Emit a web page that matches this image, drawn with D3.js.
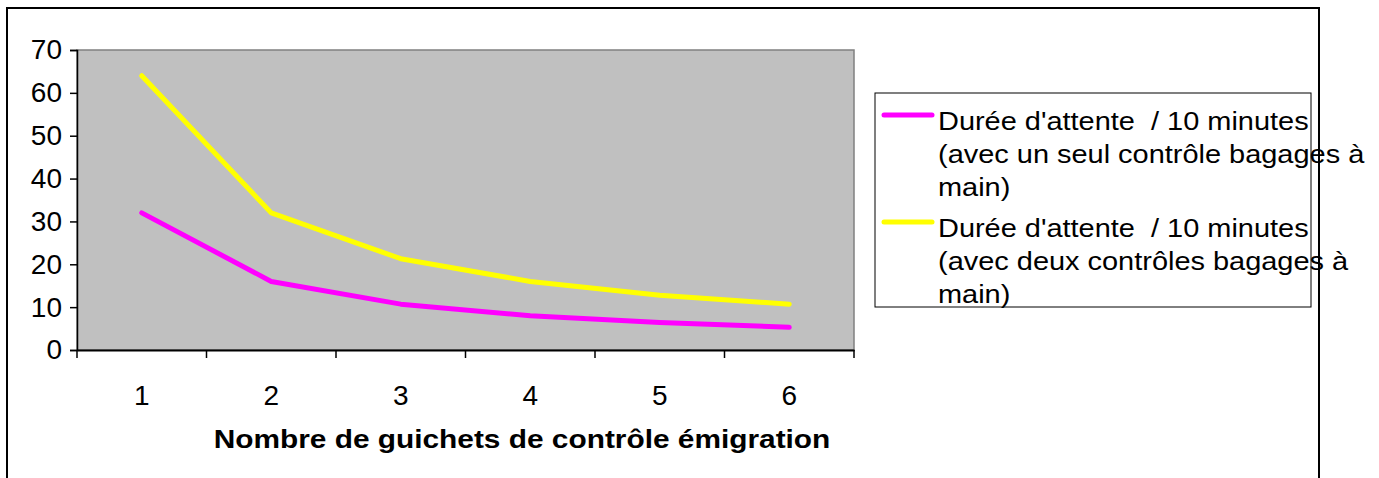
<!DOCTYPE html>
<html><head><meta charset="utf-8">
<script src="https://cdn.jsdelivr.net/npm/d3@7"></script>
<style>body{margin:0;background:#fff}svg{display:block}text{font-family:"Liberation Sans",Arial,sans-serif;white-space:pre}</style>
</head><body><svg id="c" width="1379" height="478"></svg>
<script>
const categories = ["1","2","3","4","5","6"];
const seriesNames = ["Durée d'attente  / 10 minutes (avec un seul contrôle bagages à main)",
                     "Durée d'attente  / 10 minutes (avec deux contrôles bagages à main)"];
const legendLines1 = ["Durée d'attente  / 10 minutes","(avec un seul contrôle bagages à","main)"];
const legendLines2 = ["Durée d'attente  / 10 minutes","(avec deux contrôles bagages à","main)"];
const valuesOne = [32, 16, 10.7, 8, 6.4, 5.3];
const valuesTwo = [64, 32, 21.3, 16, 12.8, 10.7];
const yTicks = [0,10,20,30,40,50,60,70];
const xTitle = "Nombre de guichets de contrôle émigration";
const colors = ["#FF00FF","#FFFF00"];

const svg = d3.select("#c");
// outer frame
svg.append("rect").attr("x",7).attr("y",8).attr("width",1312).attr("height",520)
  .attr("fill","#fff").attr("stroke","#000").attr("stroke-width",2);

const L=77,R=854,T=50,B=350;
const x = d3.scaleBand().domain(categories).range([L,R]).padding(0);
const y = d3.scaleLinear().domain([0,70]).range([B,T]);

svg.append("rect").attr("x",L).attr("y",T).attr("width",R-L).attr("height",B-T)
  .attr("fill","#C0C0C0").attr("stroke","#808080").attr("stroke-width",1.5);

// y axis
const ya = svg.append("g").attr("transform",`translate(${L},0)`)
  .call(d3.axisLeft(y).tickValues(yTicks).tickSize(7).tickPadding(8).tickFormat(d3.format("d")));
ya.select(".domain").attr("stroke","#000").attr("stroke-width",1.5);
ya.selectAll(".tick line").attr("stroke","#000").attr("stroke-width",1.5);
ya.selectAll("text").attr("font-size",28).attr("fill","#000").attr("font-family","Liberation Sans, Arial, sans-serif");

// x axis
const xa = svg.append("g").attr("transform",`translate(0,${B})`)
  .call(d3.axisBottom(x).tickSize(0).tickPadding(0));
xa.select(".domain").attr("stroke","#000").attr("stroke-width",2);
xa.selectAll("text").attr("font-size",28).attr("fill","#000").attr("dy",null).attr("y",55)
  .attr("font-family","Liberation Sans, Arial, sans-serif");
const bounds = categories.map(c=>x(c)).concat([x(categories[categories.length-1])+x.bandwidth()]);
xa.selectAll(".bt").data(bounds).enter().append("line").attr("class","bt")
  .attr("x1",d=>d).attr("x2",d=>d).attr("y1",0).attr("y2",8).attr("stroke","#000").attr("stroke-width",1.5);

svg.append("text").attr("transform",`translate(522,448) scale(1.17,1)`).attr("text-anchor","middle")
  .attr("font-size",25.5).attr("font-weight","bold").text(xTitle);

// lines
const line = d3.line().x((d,i)=>x(categories[i])+x.bandwidth()/2).y(d=>y(d));
[valuesOne,valuesTwo].forEach((vals,k)=>{
  svg.append("path").datum(vals).attr("d",line).attr("fill","none")
    .attr("stroke",colors[k]).attr("stroke-width",5).attr("stroke-linecap","round").attr("stroke-linejoin","round");
});

// legend
svg.append("rect").attr("x",875).attr("y",93).attr("width",436).attr("height",214)
  .attr("fill","#fff").attr("stroke","#000").attr("stroke-width",1);
[legendLines1,legendLines2].forEach((lines,k)=>{
  const y0 = k===0 ? 115 : 222;
  svg.append("line").attr("x1",884).attr("x2",932).attr("y1",y0).attr("y2",y0)
    .attr("stroke",colors[k]).attr("stroke-width",5).attr("stroke-linecap","round");
  const t = svg.append("text").attr("transform",`translate(938,${y0+15}) scale(1.135,1)`).attr("font-size",25.5);
  lines.forEach((s,i)=>t.append("tspan").attr("x",0).attr("dy",i===0?0:33).text(s));
});
// frame right edge drawn over legend text
svg.append("line").attr("x1",1319).attr("x2",1319).attr("y1",8).attr("y2",478).attr("stroke","#000").attr("stroke-width",2);
</script></body></html>
